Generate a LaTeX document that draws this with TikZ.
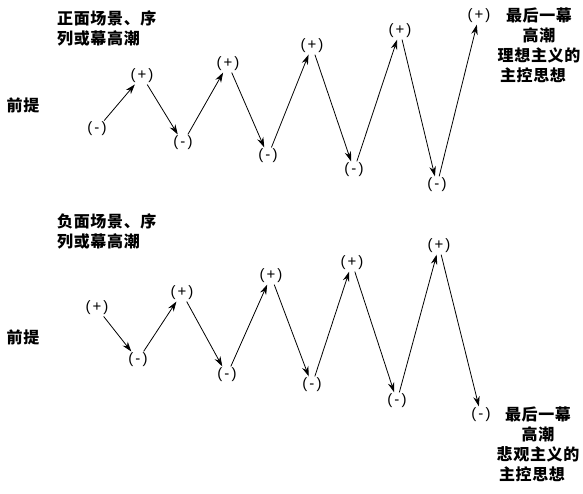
\documentclass[tikz,border=0pt]{standalone}
\usepackage{fontspec}
\newfontfamily\cjk{Noto Sans CJK SC}[LetterSpace=4]
\newfontfamily\sgnfont{Liberation Sans}[LetterSpace=14]
\usetikzlibrary{arrows.meta}

\tikzset{
  sgn/.style={font=\sgnfont\fontsize{15}{15}\selectfont, inner sep=0.5pt},
  cjktext/.style={font=\cjk\bfseries\fontsize{16}{20}\selectfont, inner sep=0pt, align=center},
  beat/.style={-{Stealth[length=10pt,width=6.5pt]}, line width=0.8pt, shorten <=1pt, shorten >=1pt}
}

\begin{document}
\begin{tikzpicture}[x=1pt,y=-1pt]
    \useasboundingbox (0,0) rectangle (583,493);
    % positive scenes
    \begin{scope}
      \node[cjktext, anchor=north west] (ttitle) at (57,10) {正面场景、序\\列或幕高潮\hspace*{16.6pt}};
      \node[cjktext] (tprem) at (23,105) {前提};
      \node[sgn] (t1) at (97,129) {(-)};
      \node[sgn] (t2) at (142,76) {(+)};
      \node[sgn] (t3) at (183,143) {(-)};
      \node[sgn] (t4) at (228,64) {(+)};
      \node[sgn] (t5) at (268,156) {(-)};
      \node[sgn] (t6) at (312,46) {(+)};
      \node[sgn] (t7) at (354,170) {(-)};
      \node[sgn] (t8) at (400,31) {(+)};
      \node[sgn] (t9) at (437,185) {(-)};
      \node[sgn] (t10) at (479,16) {(+)};
      \node[cjktext, anchor=north] (tend) at (539,8) {最后一幕\\高潮\\理想主义的\\主控思想\hspace*{12pt}};
      \draw[beat] (t1) -- (t2);
      \draw[beat] (t2) -- (t3);
      \draw[beat] (t3) -- (t4);
      \draw[beat] (t4) -- (t5);
      \draw[beat] (t5) -- (t6);
      \draw[beat] (t6) -- (t7);
      \draw[beat] (t7) -- (t8);
      \draw[beat] (t8) -- (t9);
      \draw[beat] (t9) -- (t10);
    \end{scope}
    % negative scenes
    \begin{scope}
      \node[cjktext, anchor=north west] (btitle) at (57,213) {负面场景、序\\列或幕高潮\hspace*{16.6pt}};
      \node[cjktext] (bprem) at (23,337) {前提};
      \node[sgn] (b1) at (97,308) {(+)};
      \node[sgn] (b2) at (138,360) {(-)};
      \node[sgn] (b3) at (182,293) {(+)};
      \node[sgn] (b4) at (227,375) {(-)};
      \node[sgn] (b5) at (271,276) {(+)};
      \node[sgn] (b6) at (312,385) {(-)};
      \node[sgn] (b7) at (352,263) {(+)};
      \node[sgn] (b8) at (397,401) {(-)};
      \node[sgn] (b9) at (439,246) {(+)};
      \node[sgn] (b10) at (481,415) {(-)};
      \node[cjktext, anchor=north] (bend) at (538,407) {最后一幕\\高潮\\悲观主义的\\主控思想\hspace*{12pt}};
      \draw[beat] (b1) -- (b2);
      \draw[beat] (b2) -- (b3);
      \draw[beat] (b3) -- (b4);
      \draw[beat] (b4) -- (b5);
      \draw[beat] (b5) -- (b6);
      \draw[beat] (b6) -- (b7);
      \draw[beat] (b7) -- (b8);
      \draw[beat] (b8) -- (b9);
      \draw[beat] (b9) -- (b10);
    \end{scope}
\end{tikzpicture}
\end{document}
